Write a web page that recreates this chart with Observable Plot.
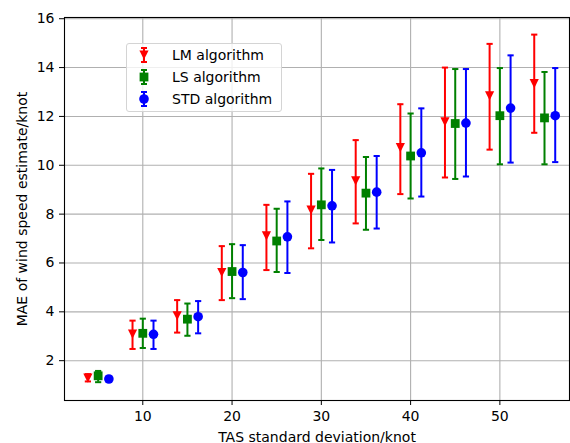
<!DOCTYPE html>
<html>
<head>
<meta charset="utf-8">
<script src="https://cdn.jsdelivr.net/npm/d3@7"></script>
<script src="https://cdn.jsdelivr.net/npm/@observablehq/plot@0.6"></script>
<style>
  body { margin: 0; background: #fff; font-family: "DejaVu Sans", sans-serif; }
  #chart { position: relative; width: 570px; height: 443px; }
  #chart svg.plot { display: block; }
  .legend {
    position: absolute; left: 126px; top: 43px; width: 154px; height: 67px;
    border: 1px solid #d4d4d4; border-radius: 3px; background: rgba(255,255,255,0.8);
  }
  .legend .row { position: absolute; left: 0; width: 100%; height: 22px; }
  .legend .row svg { position: absolute; left: 7px; top: 1px; }
  .legend .row span {
    position: absolute; left: 45px; top: 0; line-height: 22px;
    font-size: 14px; color: #000; white-space: nowrap;
  }
</style>
</head>
<body>
<div id="chart"></div>
<script>
// TAS standard deviation levels (knot)
const tasLevels = [5, 10, 15, 20, 25, 30, 35, 40, 45, 50, 55];
const algorithms = ["LM algorithm", "LS algorithm", "STD algorithm"];

// MAE of wind speed estimate (knot): mean, lower and upper error bar ends
const lmMae  = [1.29, 3.09, 3.84, 5.61, 7.11, 8.16, 9.36, 10.72, 11.78, 12.84, 13.34];
const lmLow  = [1.15, 2.48, 3.15, 4.48, 5.71, 6.60, 7.62, 8.82, 9.50, 10.64, 11.33];
const lmHigh = [1.45, 3.64, 4.48, 6.69, 8.38, 9.65, 11.03, 12.50, 14.00, 14.97, 15.35];

const lsMae  = [1.38, 3.12, 3.70, 5.65, 6.90, 8.38, 8.86, 10.38, 11.71, 12.03, 11.94];
const lsLow  = [1.12, 2.52, 3.02, 4.56, 5.63, 6.94, 7.36, 8.64, 9.44, 10.04, 10.04];
const lsHigh = [1.58, 3.72, 4.34, 6.77, 8.22, 9.87, 10.34, 12.12, 13.94, 13.98, 13.82];

const stdMae  = [1.25, 3.08, 3.80, 5.61, 7.07, 8.34, 8.90, 10.51, 11.73, 12.34, 12.03];
const stdLow  = [1.15, 2.48, 3.12, 4.52, 5.59, 6.84, 7.41, 8.72, 9.54, 10.11, 10.13];
const stdHigh = [1.35, 3.64, 4.44, 6.73, 8.52, 9.81, 10.38, 12.33, 13.94, 14.50, 13.98];

const xTicks = [10, 20, 30, 40, 50];
const yTicks = [2, 4, 6, 8, 10, 12, 14, 16];

// marker shapes (pixel sizes derived from r)
const triangleDown = {
  draw(ctx, size) {
    const r = Math.sqrt(size / Math.PI);
    ctx.moveTo(-r, -r); ctx.lineTo(r, -r); ctx.lineTo(0, r); ctx.closePath();
  }
};
const square = {
  draw(ctx, size) {
    const r = Math.sqrt(size / Math.PI);
    ctx.moveTo(-r, -r); ctx.lineTo(r, -r); ctx.lineTo(r, r); ctx.lineTo(-r, r); ctx.closePath();
  }
};
const circle = {
  draw(ctx, size) {
    const r = Math.sqrt(size / Math.PI);
    ctx.moveTo(r, 0); ctx.arc(0, 0, r, 0, 2 * Math.PI);
  }
};
const cap = {
  draw(ctx, size) {
    const r = Math.sqrt(size / Math.PI);
    ctx.moveTo(-r, 0); ctx.lineTo(r, 0);
  }
};

const series = [
  {name: algorithms[0], mae: lmMae, low: lmLow, high: lmHigh, color: "#ff0000", symbol: triangleDown, r: 4.6, dodge: -1.15},
  {name: algorithms[1], mae: lsMae, low: lsLow, high: lsHigh, color: "#008000", symbol: square, r: 4.4, dodge: 0},
  {name: algorithms[2], mae: stdMae, low: stdLow, high: stdHigh, color: "#0000ff", symbol: circle, r: 4.8, dodge: 1.2}
];

const marks = [
  Plot.gridX(xTicks, {stroke: "#b0b0b0", strokeOpacity: 1, strokeWidth: 1.1}),
  Plot.gridY(yTicks, {stroke: "#b0b0b0", strokeOpacity: 1, strokeWidth: 1.1})
];

for (const s of series) {
  const rows = tasLevels.map((t, i) => ({x: t + s.dodge, mae: s.mae[i], low: s.low[i], high: s.high[i]}));
  marks.push(
    Plot.ruleX(rows, {x: "x", y1: "low", y2: "high", stroke: s.color, strokeWidth: 2}),
    Plot.dot(rows, {x: "x", y: "low", symbol: cap, r: 3.1, fill: "none", stroke: s.color, strokeWidth: 2}),
    Plot.dot(rows, {x: "x", y: "high", symbol: cap, r: 3.1, fill: "none", stroke: s.color, strokeWidth: 2}),
    Plot.dot(rows, {x: "x", y: "mae", symbol: s.symbol, r: s.r, fill: s.color, stroke: "none"})
  );
}

marks.push(
  Plot.axisX(xTicks, {tickSize: 5, tickPadding: 6, fontSize: 14, label: null, stroke: "#000"}),
  Plot.axisY(yTicks, {tickSize: 5, tickPadding: 5, fontSize: 14, label: null, stroke: "#000"}),
  Plot.text(["TAS standard deviation/knot"], {frameAnchor: "bottom", dy: 41, lineAnchor: "bottom", textAnchor: "middle", fontSize: 14, fill: "#000"}),
  Plot.text(["MAE of wind speed estimate/knot"], {frameAnchor: "left", dx: -42, rotate: -90, textAnchor: "middle", lineAnchor: "middle", fontSize: 14, fill: "#000"}),
  Plot.frame({stroke: "#000", strokeWidth: 1.1})
);

const chart = Plot.plot({
  width: 570,
  height: 443,
  marginLeft: 64,
  marginRight: 1,
  marginTop: 17,
  marginBottom: 43,
  style: {fontFamily: "DejaVu Sans", fontSize: "14px", background: "#fff", color: "#000"},
  x: {domain: [1.23, 57.8]},
  y: {domain: [0.37, 16.05]},
  marks
});

const root = document.getElementById("chart");
root.appendChild(chart);

// legend box inside the axes
const legend = document.createElement("div");
legend.className = "legend";
series.forEach((s, i) => {
  const row = document.createElement("div");
  row.className = "row";
  row.style.top = (i * 22) + "px";
  const svg = d3.create("svg").attr("width", 20).attr("height", 20);
  svg.append("line").attr("x1", 10).attr("x2", 10).attr("y1", 3).attr("y2", 17).attr("stroke", s.color).attr("stroke-width", 2);
  svg.append("line").attr("x1", 7).attr("x2", 13).attr("y1", 3).attr("y2", 3).attr("stroke", s.color).attr("stroke-width", 2);
  svg.append("line").attr("x1", 7).attr("x2", 13).attr("y1", 17).attr("y2", 17).attr("stroke", s.color).attr("stroke-width", 2);
  const p = d3.path();
  s.symbol.draw(p, s.r * s.r * Math.PI);
  svg.append("path").attr("d", p.toString()).attr("transform", "translate(10,10)").attr("fill", s.color);
  row.appendChild(svg.node());
  const label = document.createElement("span");
  label.textContent = s.name;
  row.appendChild(label);
  legend.appendChild(row);
});
root.appendChild(legend);
</script>
</body>
</html>
